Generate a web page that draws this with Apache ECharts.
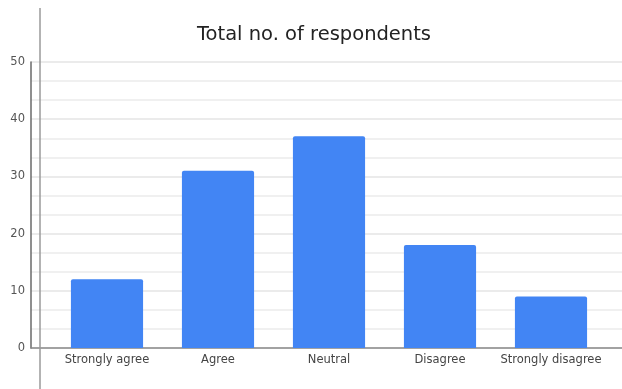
<!DOCTYPE html>
<html>
<head>
<meta charset="utf-8">
<script src="https://cdn.jsdelivr.net/npm/echarts@6/dist/echarts.min.js"></script>
<style>
  html, body { margin: 0; padding: 0; background: #fff; }
  #chart { width: 622px; height: 389px; }
</style>
</head>
<body>
<div id="chart"></div>
<script>
// Survey responses per answer option
const categories = ['Strongly agree', 'Agree', 'Neutral', 'Disagree', 'Strongly disagree'];
const respondents = [12, 31, 37, 18, 9];
const yTicks = [0, 10, 20, 30, 40, 50];

const chart = echarts.init(document.getElementById('chart'));
const fontFamily = '"DejaVu Sans", Verdana, sans-serif';

chart.setOption({
  animation: false,
  backgroundColor: '#ffffff',
  title: {
    text: 'Total no. of respondents',
    left: 197,
    top: 25,
    padding: 0,
    textStyle: { fontFamily, fontSize: 19.5, fontWeight: 'normal', color: '#222' }
  },
  grid: [
    // full-width frame: value axis, gridlines and baseline
    { left: 31, right: 0, top: 62, bottom: 41 },
    // category band that holds the bars
    { left: 51.5, right: 15.5, top: 62, bottom: 41 }
  ],
  xAxis: [
    {
      gridIndex: 0, type: 'value', min: 0, max: 1,
      axisLine: { show: true, lineStyle: { color: '#8a8a8a', width: 1.5 } },
      axisTick: { show: false }, axisLabel: { show: false }, splitLine: { show: false }
    },
    {
      gridIndex: 1, type: 'category', data: categories,
      axisLine: { show: false }, axisTick: { show: false },
      axisLabel: { interval: 0, margin: 6, fontFamily, fontSize: 11.5, color: '#444' }
    }
  ],
  yAxis: [
    {
      gridIndex: 0, type: 'value', min: yTicks[0], max: yTicks[yTicks.length - 1], interval: 10,
      axisLine: { show: true, lineStyle: { color: '#6a6a6a', width: 1.5 } },
      axisTick: { show: false },
      axisLabel: { margin: 6, fontFamily, fontSize: 11.5, color: '#555' },
      splitLine: { show: true, lineStyle: { color: '#e4e4e4', width: 1.5 } },
      minorTick: { show: false, splitNumber: 3 },
      minorSplitLine: { show: true, lineStyle: { color: '#ececec', width: 1.5 } }
    },
    {
      gridIndex: 1, type: 'value', min: yTicks[0], max: yTicks[yTicks.length - 1],
      show: false
    }
  ],
  series: [
    {
      type: 'bar',
      xAxisIndex: 1, yAxisIndex: 1,
      data: respondents,
      barWidth: '65%',
      itemStyle: { color: '#4285f4', borderRadius: [2, 2, 0, 0] }
    }
  ],
  graphic: [
    {
      type: 'line',
      shape: { x1: 40, y1: 8, x2: 40, y2: 389 },
      style: { stroke: '#9a9a9a', lineWidth: 1.5 },
      z: 100
    }
  ]
});
</script>
</body>
</html>
